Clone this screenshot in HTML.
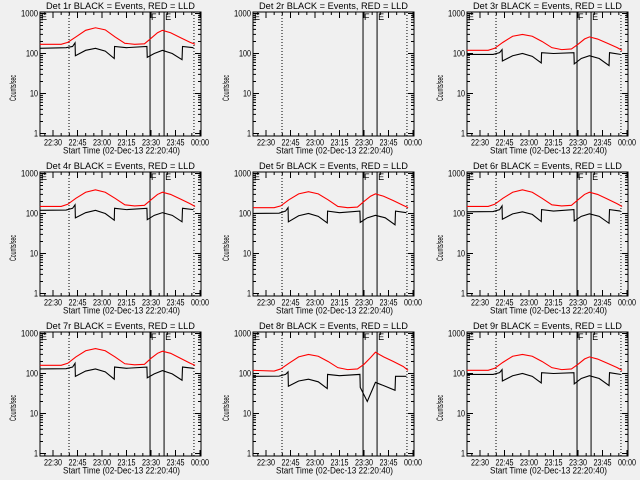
<!DOCTYPE html>
<html><head><meta charset="utf-8">
<style>
html,body{margin:0;padding:0;background:#f0f0f0;}
svg{display:block;}
text{font-family:"Liberation Sans",sans-serif;font-size:9px;fill:#000;}
</style></head>
<body>
<svg id="fig" width="640" height="480" viewBox="0 0 640 480" xmlns="http://www.w3.org/2000/svg">
<rect x="0" y="0" width="640" height="480" fill="#f0f0f0"/>
</svg>
<script>
// minutes relative to 22:30
const redT   = [-8,5,9,14,20,26,32,38,44,50,56,60,64,67,72,78,84,87];
const blackT = [-8,8,12,13.5,13.7,20,26,32,37.5,37.7,45,57.5,57.7,62,67,73,79,79.3,86];
const detNames = ["1r","2r","3r","4r","5r","6r","7r","8r","9r"];
const redVals = [
 [170,170,190,260,380,440,390,260,180,170,175,240,330,380,330,250,190,170],
 null,
 [120,120,135,190,270,300,270,200,140,125,130,170,230,260,230,180,140,120],
 [150,150,170,240,340,390,340,240,165,155,160,220,300,340,300,230,175,150],
 [140,140,155,220,310,350,310,220,150,140,145,200,270,310,270,210,160,140],
 [150,150,170,240,340,390,340,240,165,155,160,220,300,340,300,230,175,150],
 [160,160,180,260,370,420,370,260,175,165,170,240,320,360,320,240,180,160],
 [120,115,130,180,260,300,270,200,140,125,130,170,250,340,260,200,150,120],
 [120,120,135,190,270,300,270,200,140,125,130,170,230,260,230,180,140,120]
];
const blackVals = [
 [135,140,150,185,88,120,135,115,75,150,140,150,80,100,120,100,70,150,140],
 null,
 [95,95,105,125,65,88,100,85,58,105,100,105,55,75,88,75,50,105,95],
 [120,122,135,165,78,105,120,100,68,135,125,135,70,90,105,90,62,135,125],
 [100,102,115,140,62,88,100,85,58,115,105,115,60,78,90,78,52,115,105],
 [110,112,125,155,72,98,110,95,63,125,115,125,65,85,98,85,57,125,115],
 [130,132,145,180,85,115,130,110,72,145,135,145,78,98,118,98,68,145,135],
 [85,86,95,110,48,65,72,62,42,95,88,95,45,20,60,48,38,85,85],
 [95,95,105,125,65,88,100,85,58,105,100,105,55,75,88,75,50,105,95]
];
const yTicks = [1,10,100,1000];
const yTickLabels = ["1","10","100","1000"];
const xTicks = [0,15,30,45,60,75,90];
const xTickLabels = ["22:30","22:45","23:00","23:15","23:30","23:45","00:00"];
const dottedT = [9.8,86.3];
const flagT = [59.4,68];

const NS="http://www.w3.org/2000/svg";
const svg=document.getElementById('fig');
function mk(tag,attrs,parent){const e=document.createElementNS(NS,tag);for(const k in attrs)e.setAttribute(k,attrs[k]);parent.appendChild(e);return e;}

const BL=40,BR=201,BT=12,BB=136;
function xs(t){return 53+t*24.5/15;}
function ys(v){return 133.5-Math.log10(v)*40;}

for(let p=0;p<9;p++){
  const ox=[0,213,427][p%3], oy=[0,160,320][Math.floor(p/3)];
  const g=mk('g',{transform:`translate(${ox},${oy})`},svg);
  
  
  const title=mk('text',{x:46,y:9,textLength:149,lengthAdjust:'spacingAndGlyphs'},g);
  title.textContent='Det '+detNames[p]+' BLACK = Events, RED = LLD';
  
  
  const box=mk('rect',{x:BL,y:BT,width:BR-BL,height:BB-BT,fill:'none',stroke:'#000','stroke-width':1},g);
  
  
  let d='';
  for(let dec=0;dec<3;dec++){for(let m=1;m<=9;m++){const v=Math.pow(10,dec)*m;const y=ys(v);const L=(m===1)?6:3;d+=`M${BL},${y}h${L}M${BR},${y}h${-L}`;}}
  d+=`M${BL},${ys(1000)}h6M${BR},${ys(1000)}h-6`;
  yTicks.forEach((v,i)=>{const w=[4,8,12,17][i];const t=mk('text',{x:38-w,y:ys(v)+3,textLength:w,lengthAdjust:'spacingAndGlyphs'},g);t.textContent=yTickLabels[i];
    });
  for(let t=-5;t<=90;t+=5){const x=xs(t);const L=(t%15===0)?6:3;d+=`M${x},${BB}v${-L}M${x},${BT}v${L}`;}
  const tk=mk('path',{d:d,stroke:'#000','stroke-width':1,fill:'none'},g);
  
  xTicks.forEach((t,i)=>{const e=mk('text',{x:xs(t)-9,y:145.5,textLength:18,lengthAdjust:'spacingAndGlyphs'},g);e.textContent=xTickLabels[i];
    });
  const xt=mk('text',{x:63,y:153.5,textLength:117,lengthAdjust:'spacingAndGlyphs'},g);xt.textContent='Start Time (02-Dec-13 22:20:40)';
  
  const yt=mk('text',{x:-13,y:0,'font-size':'8',textLength:26,lengthAdjust:'spacingAndGlyphs',transform:`translate(16,${(BT+BB)/2+14}) rotate(-90)`},g);yt.textContent='Counts/sec';
  
  dottedT.forEach(t=>{const l=mk('line',{x1:xs(t),x2:xs(t),y1:BT,y2:BB,stroke:'#000','stroke-width':1,'stroke-dasharray':'1,2'},g);
    });
  flagT.forEach((t,i)=>{const l=mk('line',{x1:xs(t),x2:xs(t),y1:BT,y2:BB,stroke:'#000','stroke-width':1},g);
    
    const e=mk('text',{x:xs(t)+1,y:BT+8,'font-size':'11'},g);e.textContent=i===0?'F':'E';
    });
  const e0=mk('text',{x:BL+1,y:BT+8,'font-size':'11'},g);e0.textContent='E';
  
  if(redVals[p]){
    const rp=mk('polyline',{points:redT.map((t,i)=>xs(t)+','+ys(redVals[p][i])).join(' '),fill:'none',stroke:'#ff0000','stroke-width':1.1},g);
    
    const bp=mk('polyline',{points:blackT.map((t,i)=>xs(t)+','+ys(blackVals[p][i])).join(' '),fill:'none',stroke:'#000','stroke-width':1.1},g);
    
  }
}
</script>
</body></html>
